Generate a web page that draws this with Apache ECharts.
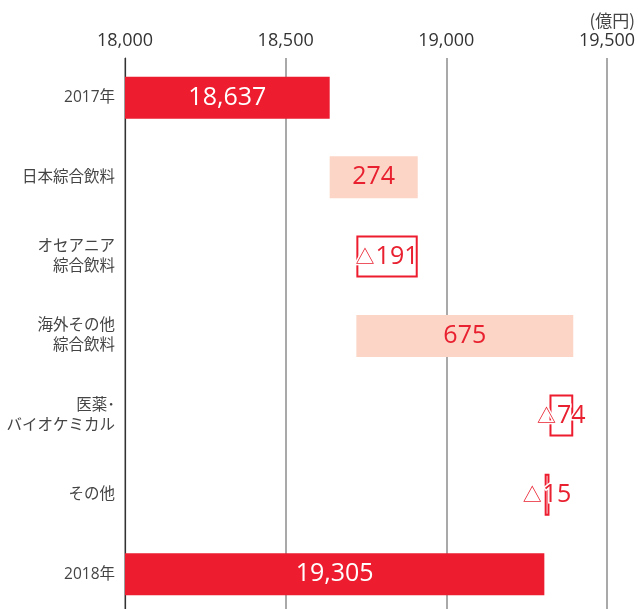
<!DOCTYPE html>
<html>
<head>
<meta charset="utf-8">
<script src="https://cdn.jsdelivr.net/npm/echarts@6/dist/echarts.min.js"></script>
<style>
  html, body { margin: 0; padding: 0; background: #fff; }
  #chart { width: 638px; height: 609px; }
</style>
</head>
<body>
<div id="chart"></div>
<script>
// Consolidated revenue bridge, 2017 to 2018 (億円)
const categories = ['2017年', '日本綜合飲料', 'オセアニア\n綜合飲料', '海外その他\n綜合飲料', '医薬･\nバイオケミカル', 'その他', '2018年'];
const startTotal = 18637;
const segmentChanges = [274, -191, 675, -74, -15];
const endTotal = 19305;
const axisTicks = [18000, 18500, 19000, 19500];

const RED = '#ed1c2e';
const PINK = '#fcd5c6';
const LABEL_RED = '#e8202f';

// Build invisible offsets and visible lengths for the waterfall
const baseData = [];
const barData = [];

baseData.push(0);
barData.push({ value: startTotal, kind: 'total', shown: startTotal });

let running = startTotal;
segmentChanges.forEach(function (d) {
  const next = running + d;
  baseData.push(Math.min(running, next));
  barData.push({ value: Math.abs(d), kind: d >= 0 ? 'up' : 'down', shown: d });
  running = next;
});

baseData.push(0);
barData.push({ value: endTotal, kind: 'total', shown: endTotal });

function fmt(n) {
  return String(n).replace(/\B(?=(\d{3})+(?!\d))/g, ',');
}

const styledBars = barData.map(function (b) {
  let itemStyle, label;
  if (b.kind === 'total') {
    itemStyle = { color: RED };
    label = { color: '#fff', formatter: fmt(b.shown) };
  } else if (b.kind === 'up') {
    itemStyle = { color: PINK };
    label = { color: LABEL_RED, formatter: fmt(b.shown) };
  } else {
    itemStyle = { color: '#fff', borderColor: RED, borderWidth: 2 };
    label = {
      color: LABEL_RED,
      formatter: '{tri|△}' + fmt(Math.abs(b.shown)),
      textBorderColor: '#fff',
      textBorderWidth: 3
    };
  }
  return { value: b.value, itemStyle: itemStyle, label: label };
});

const chart = echarts.init(document.getElementById('chart'), null, { renderer: 'canvas' });

chart.setOption({
  animation: false,
  grid: {
    left: 125, right: 31, top: 58, height: 556,
    containLabel: false,
    outerBoundsMode: 'none'
  },
  xAxis: {
    type: 'value',
    position: 'top',
    min: axisTicks[0],
    max: axisTicks[axisTicks.length - 1],
    interval: axisTicks[1] - axisTicks[0],
    axisLine: { show: false },
    axisTick: { show: false },
    axisLabel: {
      color: '#333',
      fontSize: 18,
      fontFamily: 'Open Sans',
      margin: 8,
      formatter: function (v) { return fmt(v); }
    },
    splitLine: { show: true, lineStyle: { color: '#8c8c8c', width: 1.5 } }
  },
  yAxis: {
    type: 'category',
    inverse: true,
    data: categories,
    axisLine: { show: true, lineStyle: { color: '#333', width: 1.2 } },
    axisTick: { show: false },
    axisLabel: {
      color: '#444',
      fontSize: 15.5,
      lineHeight: 20,
      fontFamily: '"Open Sans", "Noto Sans CJK JP"',
      margin: 10
    }
  },
  graphic: [{
    type: 'text',
    right: 3,
    top: 12,
    style: {
      text: '(億円)',
      fontSize: 17,
      fill: '#444',
      fontFamily: 'Noto Sans CJK JP'
    }
  }],
  series: [
    {
      type: 'bar',
      stack: 'bridge',
      data: baseData,
      barWidth: 42,
      itemStyle: { color: 'rgba(0,0,0,0)' },
      silent: true
    },
    {
      type: 'bar',
      stack: 'bridge',
      data: styledBars,
      barWidth: 42,
      label: {
        show: true,
        position: 'inside',
        fontSize: 25,
        fontFamily: 'Open Sans',
        rich: {
          tri: {
            fontSize: 19,
            fontFamily: 'Noto Sans CJK JP',
            color: LABEL_RED,
            padding: [0, 1, 0, 0]
          }
        }
      }
    }
  ]
});
</script>
</body>
</html>
